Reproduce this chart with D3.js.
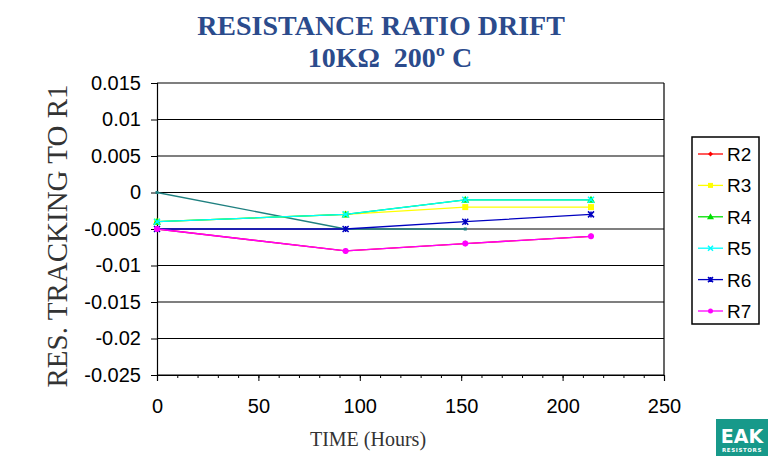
<!DOCTYPE html>
<html><head><meta charset="utf-8">
<script src="https://cdn.jsdelivr.net/npm/d3@7"></script>
<style>body{margin:0;background:#fff}svg{display:block}</style>
</head><body>
<svg id="c" width="770" height="457"></svg>
<script>
const hours = [0, 93, 152, 214];
const R2 = [-0.005, -0.008, -0.007, -0.006];
const R3 = [-0.004, -0.003, -0.002, -0.002];
const R4 = [-0.004, -0.003, -0.001, -0.001];
const R5 = [-0.004, -0.003, -0.001, -0.001];
const R6 = [-0.005, -0.005, -0.004, -0.003];
const R7 = [-0.005, -0.008, -0.007, -0.006];
const extraHours = [0, 93, 152];
const extra = [0, -0.005, -0.005];
const yTicks = [0.015, 0.01, 0.005, 0, -0.005, -0.01, -0.015, -0.02, -0.025];
const yTickLabels = ["0.015","0.01","0.005","0","-0.005","-0.01","-0.015","-0.02","-0.025"];
const xTicks = [0, 50, 100, 150, 200, 250];
const seriesNames = ["R2","R3","R4","R5","R6","R7"];
const seriesColors = ["#ff0000","#ffff00","#00e000","#00ffff","#0000c0","#ff00ff"];
const seriesMarkers = ["diamond","square","triangle","cross","star","circle"];

const svg = d3.select("#c");
const x = d3.scaleLinear().domain([0, 250]).range([157, 664]);
const y = d3.scaleLinear().domain([-0.025, 0.015]).range([375, 83]);

// title
svg.append("text").attr("x", 381).attr("y", 35).attr("text-anchor", "middle")
  .attr("font-family", "Liberation Serif, serif").attr("font-weight", "bold")
  .attr("font-size", 28).attr("fill", "#2b4b8c").text("RESISTANCE RATIO DRIFT");
svg.append("text").attr("x", 390).attr("y", 67).attr("text-anchor", "middle")
  .attr("xml:space", "preserve").style("white-space", "pre")
  .attr("font-family", "Liberation Serif, serif").attr("font-weight", "bold")
  .attr("font-size", 28).attr("fill", "#2b4b8c").text("10KΩ  200º C");

// grid
svg.append("g").selectAll("line").data(yTicks).join("line")
  .attr("x1", x(0)).attr("x2", x(250)).attr("y1", d => y(d)).attr("y2", d => y(d))
  .attr("stroke", "#000").attr("stroke-width", 1.2);
svg.append("line").attr("x1", x(250)).attr("x2", x(250)).attr("y1", y(0.015)).attr("y2", y(-0.025))
  .attr("stroke", "#000").attr("stroke-width", 1.2);

// axes
const yAxis = d3.axisLeft(y).tickValues(yTicks).tickSize(6).tickFormat((d, i) => yTickLabels[i]);
const gy = svg.append("g").attr("transform", `translate(${x(0)},0)`).call(yAxis);
gy.select(".domain").attr("stroke-width", 1.2);
gy.selectAll("text").attr("font-family", "Liberation Sans, Arial, sans-serif")
  .attr("font-size", 20).attr("fill", "#000").attr("x", -16);

const xMinor = d3.range(0, 251, 10);
const gxm = svg.append("g").attr("transform", `translate(0,${y(-0.025)})`)
  .call(d3.axisBottom(x).tickValues(xMinor).tickSize(3).tickFormat(""));
gxm.select(".domain").remove();
const gx = svg.append("g").attr("transform", `translate(0,${y(-0.025)})`)
  .call(d3.axisBottom(x).tickValues(xTicks).tickSize(6).tickFormat(d3.format("d")));
gx.select(".domain").attr("stroke-width", 1.2);
gx.selectAll("text").attr("font-family", "Liberation Sans, Arial, sans-serif")
  .attr("font-size", 20).attr("fill", "#000").attr("y", 24).attr("dy", "0.71em");

// axis titles
svg.append("text").attr("transform", "translate(67,236) rotate(-90)").attr("text-anchor", "middle")
  .attr("font-family", "Liberation Serif, serif").attr("font-size", 29).attr("fill", "#333")
  .text("RES. TRACKING TO R1");
svg.append("text").attr("x", 368).attr("y", 446).attr("text-anchor", "middle")
  .attr("font-family", "Liberation Serif, serif").attr("font-size", 20).attr("fill", "#333")
  .text("TIME (Hours)");

// series
const line = d3.line().x(d => x(d[0])).y(d => y(d[1]));
const allSeries = [R2, R3, R4, R5, R6, R7];
function marker(g, type, cx, cy, color, s) {
  s = s || 3;
  if (type === "diamond") g.append("path").attr("d", `M${cx},${cy-s}L${cx+s},${cy}L${cx},${cy+s}L${cx-s},${cy}Z`).attr("fill", color);
  else if (type === "square") g.append("rect").attr("x", cx-s).attr("y", cy-s).attr("width", 2*s).attr("height", 2*s).attr("fill", color);
  else if (type === "triangle") g.append("path").attr("d", `M${cx},${cy-s-1}L${cx+s+1},${cy+s}L${cx-s-1},${cy+s}Z`).attr("fill", color);
  else if (type === "cross") g.append("path").attr("d", `M${cx-s},${cy-s}L${cx+s},${cy+s}M${cx+s},${cy-s}L${cx-s},${cy+s}`).attr("stroke", color).attr("stroke-width", 1.5);
  else if (type === "star") g.append("path").attr("d", `M${cx-s},${cy-s}L${cx+s},${cy+s}M${cx+s},${cy-s}L${cx-s},${cy+s}M${cx},${cy-s}L${cx},${cy+s}`).attr("stroke", color).attr("stroke-width", 1.5);
  else g.append("circle").attr("cx", cx).attr("cy", cy).attr("r", s).attr("fill", color);
}
const gs = svg.append("g");
// extra teal series (not in legend)
gs.append("path").datum(extraHours.map((h, i) => [h, extra[i]])).attr("d", line)
  .attr("fill", "none").attr("stroke", "#1f8080").attr("stroke-width", 1.3);
extraHours.forEach((h, i) => gs.append("rect").attr("x", x(h)-1.5).attr("y", y(extra[i])-1.5)
  .attr("width", 3).attr("height", 3).attr("fill", "#1f8080"));
allSeries.forEach((vals, k) => {
  const pts = hours.map((h, i) => [h, vals[i]]);
  gs.append("path").datum(pts).attr("d", line).attr("fill", "none")
    .attr("stroke", seriesColors[k]).attr("stroke-width", 1.3);
  pts.forEach(p => marker(gs, seriesMarkers[k], x(p[0]), y(p[1]), seriesColors[k], 3));
});

// legend
const lg = svg.append("g");
lg.append("rect").attr("x", 692).attr("y", 137).attr("width", 67).attr("height", 187)
  .attr("fill", "#fff").attr("stroke", "#000").attr("stroke-width", 1.5);
seriesNames.forEach((n, k) => {
  const ly = 154 + k * 31.4;
  lg.append("line").attr("x1", 698).attr("x2", 723).attr("y1", ly).attr("y2", ly)
    .attr("stroke", seriesColors[k]).attr("stroke-width", 1.3);
  marker(lg, seriesMarkers[k], 710.5, ly, seriesColors[k], 2.5);
  lg.append("text").attr("x", 727).attr("y", ly + 7).attr("font-family", "Liberation Sans, Arial, sans-serif")
    .attr("font-size", 19).attr("fill", "#000").text(n);
});

// logo
const logo = svg.append("g");
logo.append("rect").attr("x", 716).attr("y", 419).attr("width", 52).attr("height", 37).attr("fill", "#17998a");
logo.append("text").attr("x", 742).attr("y", 443).attr("text-anchor", "middle")
  .attr("font-family", "DejaVu Sans, sans-serif").attr("font-weight", "bold").attr("font-size", 19)
  .attr("fill", "#fff").text("EAK");
logo.append("text").attr("x", 742).attr("y", 452).attr("text-anchor", "middle")
  .attr("font-family", "DejaVu Sans, sans-serif").attr("font-weight", "bold").attr("font-size", 5.5)
  .attr("fill", "#fff").attr("letter-spacing", 0.6).text("RESISTORS");
</script>
</body></html>
